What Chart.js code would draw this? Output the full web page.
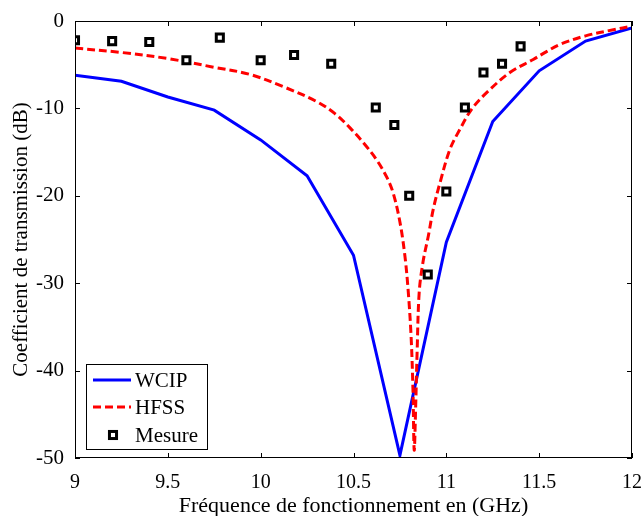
<!DOCTYPE html>
<html>
<head>
<meta charset="utf-8">
<script src="https://cdn.jsdelivr.net/npm/chart.js@4/dist/chart.umd.min.js"></script>
<style>
  html, body { margin: 0; padding: 0; background: #fff; }
  #wrap { width: 644px; height: 516px; }
</style>
</head>
<body>
<div id="wrap"><canvas id="chart" width="644" height="516"></canvas></div>
<script>
// WCIP (simulation), sampled every 0.25 GHz
const wcipFreq = [9, 9.25, 9.5, 9.75, 10, 10.25, 10.5, 10.75, 11, 11.25, 11.5, 11.75, 12];
const wcipDb = [-6.2, -6.9, -8.7, -10.2, -13.6, -17.7, -26.8, -49.7, -25.3, -11.5, -5.7, -2.3, -0.8];

// HFSS (simulation)
const hfssFreq = [9, 9.25, 9.5, 9.75, 9.94, 10.12, 10.3, 10.4, 10.48, 10.56, 10.625, 10.68, 10.714, 10.75, 10.777,
  10.795, 10.81, 10.82, 10.827, 10.835, 10.843, 10.854, 10.875, 10.903, 10.93, 10.966, 11.019, 11.073, 11.136,
  11.217, 11.342, 11.468, 11.54, 11.61, 11.75, 11.9, 12];
const hfssDb = [-3.1, -3.6, -4.3, -5.3, -6.1, -7.5, -9.2, -10.6, -12.2, -14.1, -15.9, -17.9, -19.7, -23.0, -26.9,
  -31, -36, -42, -49.1, -44, -37.6, -31, -27.5, -24.6, -21.5, -18.5, -14.7, -12.4, -10.1,
  -8.2, -5.9, -4.4, -3.5, -2.7, -1.7, -1.0, -0.6];

// Mesure
const mesFreq = [9, 9.2, 9.4, 9.6, 9.78, 10, 10.18, 10.38, 10.62, 10.72, 10.8, 10.9, 11, 11.1, 11.2, 11.3, 11.4];
const mesDb = [-2.2, -2.3, -2.4, -4.5, -1.9, -4.5, -3.9, -4.9, -9.9, -11.9, -20.0, -29.0, -19.5, -9.9, -5.9, -4.9, -2.9];

const xTicks = [9, 9.5, 10, 10.5, 11, 11.5, 12];
const yTicks = [0, -10, -20, -30, -40, -50];

const seriesNames = ["WCIP", "HFSS", "Mesure"];

const toPoints = (xs, ys) => xs.map((x, i) => ({ x: x, y: ys[i] }));
const FONT = "'Liberation Serif', 'Times New Roman', serif";

// box around the plot + inward ticks on all four sides
const frame = {
  id: "frame",
  afterDraw(chart) {
    const { ctx, chartArea: a, scales } = chart;
    ctx.save();
    ctx.strokeStyle = "#000";
    ctx.lineWidth = 1;
    ctx.strokeRect(a.left + 0.5, a.top + 0.5, a.right - a.left - 1, a.bottom - a.top - 1);
    ctx.beginPath();
    xTicks.forEach(v => {
      const x = Math.round(scales.x.getPixelForValue(v)) + 0.5;
      ctx.moveTo(x, a.bottom); ctx.lineTo(x, a.bottom - 5);
      ctx.moveTo(x, a.top); ctx.lineTo(x, a.top + 5);
    });
    yTicks.forEach(v => {
      const y = Math.round(scales.y.getPixelForValue(v)) + 0.5;
      ctx.moveTo(a.left, y); ctx.lineTo(a.left + 5, y);
      ctx.moveTo(a.right, y); ctx.lineTo(a.right - 5, y);
    });
    ctx.stroke();
    ctx.restore();
  }
};

// legend box in the lower-left corner
const boxLegend = {
  id: "boxLegend",
  afterDraw(chart) {
    const { ctx, chartArea: a } = chart;
    const bx = a.left + 11, by = a.bottom - 94, bw = 121, bh = 85;
    ctx.save();
    ctx.fillStyle = "#fff";
    ctx.fillRect(bx, by, bw, bh);
    ctx.strokeStyle = "#000";
    ctx.lineWidth = 1;
    ctx.strokeRect(bx + 0.5, by + 0.5, bw, bh);
    const rows = [16, 43, 71];
    ctx.font = "21px " + FONT;
    ctx.textBaseline = "middle";
    chart.data.datasets.forEach((ds, i) => {
      const y = by + rows[i];
      if (ds.showLine) {
        ctx.beginPath();
        ctx.strokeStyle = ds.borderColor;
        ctx.lineWidth = ds.borderWidth;
        ctx.setLineDash(ds.borderDash || []);
        ctx.moveTo(bx + 7, y);
        ctx.lineTo(bx + 45, y);
        ctx.stroke();
        ctx.setLineDash([]);
      } else {
        const s = ds.pointRadius * Math.SQRT1_2;
        ctx.fillStyle = ds.pointBackgroundColor;
        ctx.strokeStyle = ds.pointBorderColor;
        ctx.lineWidth = ds.pointBorderWidth;
        ctx.fillRect(bx + 27 - s, y - s, 2 * s, 2 * s);
        ctx.strokeRect(bx + 27 - s, y - s, 2 * s, 2 * s);
      }
      ctx.fillStyle = "#000";
      ctx.fillText(ds.label, bx + 49, y + 1);
    });
    ctx.restore();
  }
};

new Chart(document.getElementById("chart").getContext("2d"), {
  type: "scatter",
  data: {
    datasets: [
      {
        label: seriesNames[0],
        data: toPoints(wcipFreq, wcipDb),
        showLine: true,
        borderColor: "#0000ff",
        borderWidth: 3,
        pointRadius: 0,
        tension: 0,
        order: 2
      },
      {
        label: seriesNames[1],
        data: toPoints(hfssFreq, hfssDb),
        showLine: true,
        borderColor: "#ff0000",
        borderWidth: 3,
        borderDash: [8, 4],
        pointRadius: 0,
        tension: 0.35,
        order: 1
      },
      {
        label: seriesNames[2],
        data: toPoints(mesFreq, mesDb),
        showLine: false,
        pointStyle: "rect",
        pointRadius: 5,
        pointBorderWidth: 3,
        pointBorderColor: "#000",
        pointBackgroundColor: "#fff",
        order: 0
      }
    ]
  },
  options: {
    responsive: false,
    animation: false,
    layout: { padding: { left: 0, right: 12, top: 21, bottom: 0 } },
    plugins: { legend: { display: false }, tooltip: { enabled: false } },
    scales: {
      x: {
        type: "linear",
        min: 9, max: 12,
        afterBuildTicks: s => { s.ticks = xTicks.map(v => ({ value: v })); },
        afterFit: s => { s.height = 58; s.paddingLeft = 0; s.paddingRight = 0; },
        grid: { display: false },
        border: { display: false },
        ticks: { color: "#000", padding: 5, font: { family: FONT, size: 20 }, callback: v => String(v) },
        title: {
          display: true,
          text: "Fréquence de fonctionnement en (GHz)",
          color: "#000",
          padding: { top: 0, bottom: -3 },
          font: { family: FONT, size: 22 }
        }
      },
      y: {
        min: -50, max: 0,
        afterBuildTicks: s => { s.ticks = yTicks.map(v => ({ value: v })); },
        afterFit: s => { s.width = 75; s.paddingTop = 0; s.paddingBottom = 0; },
        grid: { display: false },
        border: { display: false },
        ticks: { color: "#000", padding: 3, font: { family: FONT, size: 21 } },
        title: {
          display: true,
          text: "Coefficient de transmission (dB)",
          color: "#000",
          padding: { top: 9, bottom: 0 },
          font: { family: FONT, size: 21 }
        }
      }
    }
  },
  plugins: [frame, boxLegend]
});
</script>
</body>
</html>
